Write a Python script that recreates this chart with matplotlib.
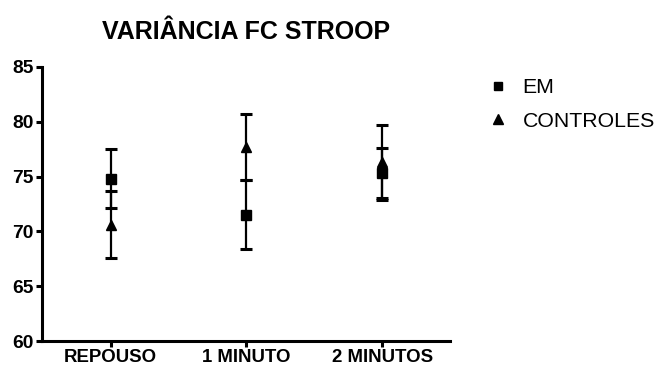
import matplotlib
matplotlib.use("Agg")
import matplotlib.pyplot as plt
from matplotlib.lines import Line2D
import numpy as np

categories = ["REPOUSO", "1 MINUTO", "2 MINUTOS"]
em_mean = [74.8, 71.5, 75.35]
em_sem = [2.7, 3.15, 2.3]
ctrl_mean = [70.6, 77.7, 76.3]
ctrl_sem = [3.05, 3.0, 3.4]
yticks = [60, 65, 70, 75, 80, 85]

plt.rcParams['font.family'] = ['Liberation Sans', 'DejaVu Sans']

fig = plt.figure(figsize=(6.59, 3.72), dpi=100)
ax = fig.add_axes([0.0637, 0.0833, 0.6192, 0.7366])

x = np.arange(len(categories))
ax.errorbar(x, em_mean, yerr=em_sem, fmt='s', color='black', ms=6.5,
            elinewidth=1.6, capsize=4.3, capthick=2.2, zorder=3)
ax.errorbar(x, ctrl_mean, yerr=ctrl_sem, fmt='^', color='black', ms=7.5,
            elinewidth=1.6, capsize=4.3, capthick=2.2, zorder=3)

ax.set_xlim(-0.505, 2.5)
ax.set_ylim(60, 85)
ax.set_yticks(yticks)
ax.set_yticklabels([str(v) for v in yticks], fontsize=13.8, fontweight='bold')
ax.set_xticks(x)
ax.set_xticklabels(categories, fontsize=13.4, fontweight='bold')
for s in ['top', 'right']:
    ax.spines[s].set_visible(False)
for s in ['left', 'bottom']:
    ax.spines[s].set_linewidth(2.2)
ax.tick_params(axis='both', direction='out', length=4, width=2.2, pad=2)

ax.set_title("VARIÂNCIA FC STROOP", fontsize=18, fontweight='bold', pad=20)

handles = [Line2D([], [], marker='s', ls='none', color='black', ms=6),
           Line2D([], [], marker='^', ls='none', color='black', ms=7)]
fig.legend(handles, ["EM", "CONTROLES"], loc='upper left',
           bbox_to_anchor=(0.740, 0.79), frameon=False, fontsize=15.3,
           handletextpad=0.65, labelspacing=0.68, handlelength=1.0,
           borderaxespad=0, borderpad=0)

fig.savefig("out.png", dpi=100)
